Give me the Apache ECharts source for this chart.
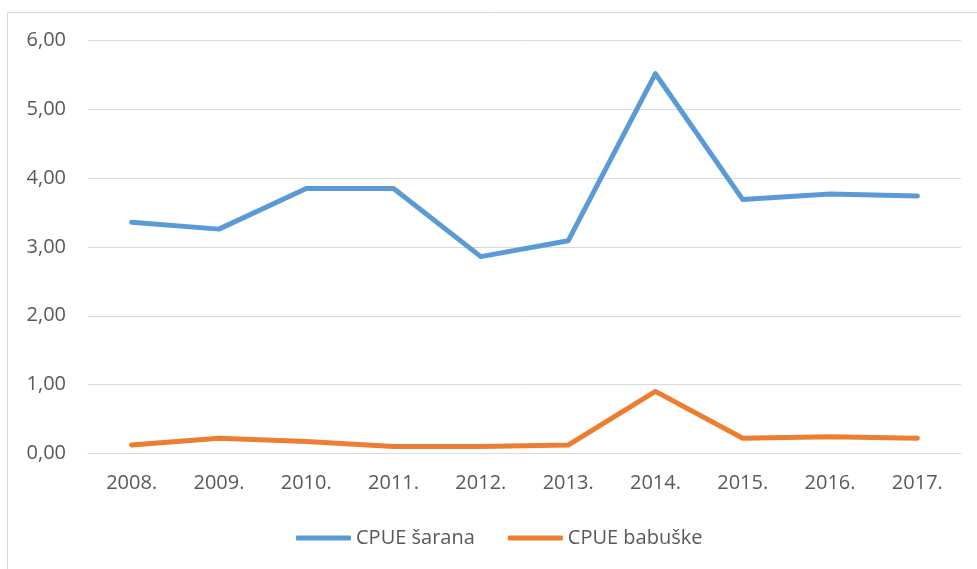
<!DOCTYPE html>
<html>
<head>
<meta charset="utf-8">
<title>CPUE</title>
<script src="https://cdn.jsdelivr.net/npm/echarts@6/dist/echarts.min.js"></script>
<style>
  html, body { margin: 0; padding: 0; background: #ffffff; }
  #chart { width: 977px; height: 569px; }
</style>
</head>
<body>
<div id="chart"></div>
<script>
// Years on the category axis
const years = ['2008.', '2009.', '2010.', '2011.', '2012.', '2013.', '2014.', '2015.', '2016.', '2017.'];

// Catch per unit effort by species
const cpueSarana = [3.36, 3.26, 3.85, 3.85, 2.86, 3.09, 5.52, 3.69, 3.77, 3.74];
const cpueBabuske = [0.12, 0.22, 0.17, 0.10, 0.10, 0.12, 0.90, 0.22, 0.24, 0.22];

const seriesNames = ['CPUE šarana', 'CPUE babuške'];
const seriesColors = ['#5B9BD5', '#ED7D31'];

const fontFamily = '"Open Sans", "DejaVu Sans", sans-serif';
const textColor = '#595959';
const gridColor = '#D9D9D9';

const chart = echarts.init(document.getElementById('chart'), null, { renderer: 'canvas' });

chart.setOption({
  backgroundColor: '#ffffff',
  animation: false,
  graphic: [{
    type: 'rect',
    shape: { x: 7.5, y: 12.5, width: 1000, height: 600 },
    style: { fill: 'none', stroke: gridColor, lineWidth: 1 },
    silent: true
  }],
  grid: { left: 88, right: 16, top: 40.7, bottom: 115.7, containLabel: false },
  legend: {
    left: 296,
    top: 528,
    padding: 0,
    itemWidth: 55,
    itemHeight: 5,
    itemGap: 33,
    icon: 'roundRect',
    textStyle: { fontFamily: fontFamily, fontSize: 20, color: textColor },
    data: seriesNames
  },
  xAxis: {
    type: 'category',
    data: years,
    boundaryGap: true,
    axisLine: { show: true, lineStyle: { color: gridColor, width: 1 } },
    axisTick: { show: false },
    axisLabel: { fontFamily: fontFamily, fontSize: 20, color: textColor, margin: 20 },
    splitLine: { show: false }
  },
  yAxis: {
    type: 'value',
    min: 0,
    max: 6,
    interval: 1,
    axisLine: { show: false },
    axisTick: { show: false },
    axisLabel: {
      fontFamily: fontFamily, fontSize: 20, color: textColor, margin: 22,
      formatter: v => v.toFixed(2).replace('.', ',')
    },
    splitLine: { show: true, lineStyle: { color: gridColor, width: 1 } }
  },
  series: [
    {
      name: seriesNames[0],
      type: 'line',
      data: cpueSarana,
      symbol: 'none',
      color: seriesColors[0],
      lineStyle: { color: seriesColors[0], width: 5, cap: 'round', join: 'round' }
    },
    {
      name: seriesNames[1],
      type: 'line',
      data: cpueBabuske,
      symbol: 'none',
      color: seriesColors[1],
      lineStyle: { color: seriesColors[1], width: 5, cap: 'round', join: 'round' }
    }
  ]
});
</script>
</body>
</html>
